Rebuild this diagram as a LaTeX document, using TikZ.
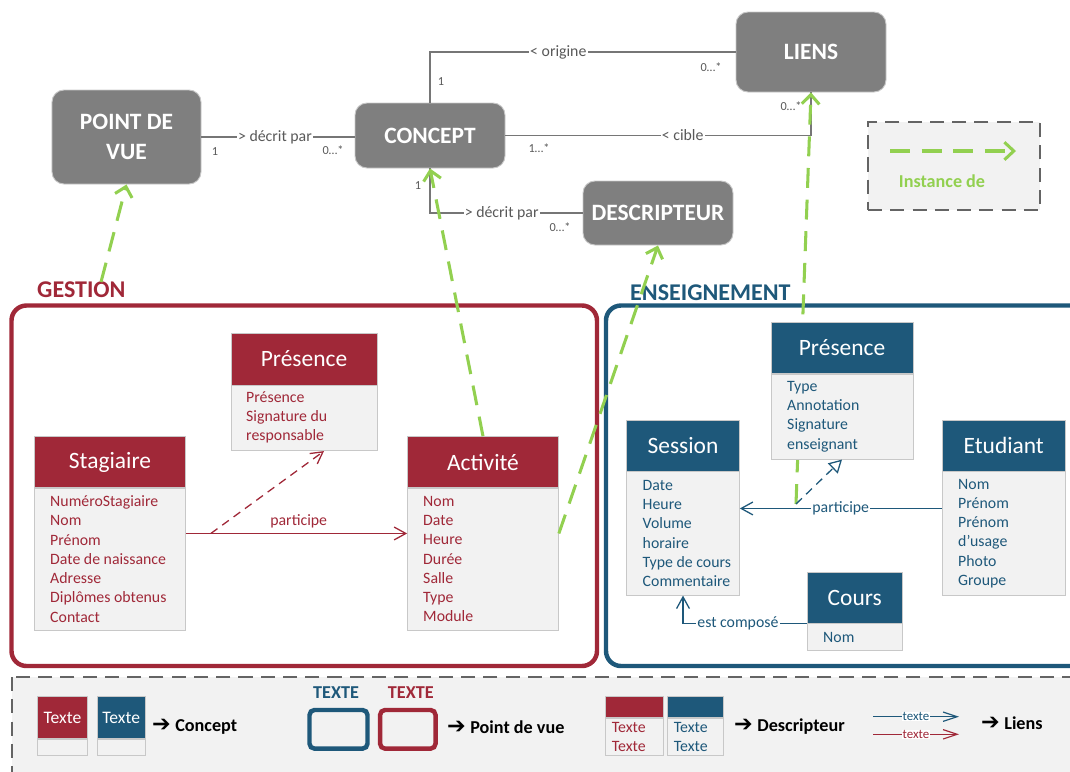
\documentclass[tikz,border=0pt]{standalone}
\usepackage{fontspec}
\setmainfont{Carlito}
\newfontfamily\arrowfont{DejaVu Sans}
\usepackage{tikz}
\usetikzlibrary{calc,arrows.meta,positioning}
\definecolor{gestred}{RGB}{160,40,56}
\definecolor{ensblue}{RGB}{30,88,122}
\definecolor{metagray}{RGB}{127,127,127}
\definecolor{linkgray}{RGB}{118,118,118}
\definecolor{labelgray}{RGB}{89,89,89}
\definecolor{instgreen}{RGB}{146,208,80}
\definecolor{bodyfill}{RGB}{242,242,242}
\definecolor{edgegray}{RGB}{200,200,200}
\definecolor{legendedge}{RGB}{100,100,100}
\newcommand\hdrfont{\fontsize{20}{24}\selectfont}
\newcommand\attrfont{\fontsize{13.5}{16.4}\selectfont}
\newcommand\metaboxfont{\fontsize{20}{25.6}\selectfont\bfseries}
\newcommand\linkfont{\fontsize{13.5}{16}\selectfont}
\newcommand\multfont{\fontsize{10.5}{12}\selectfont}
\newcommand\pkgfont{\fontsize{20.5}{24}\selectfont\bfseries}
\newcommand\legfont{\fontsize{15.5}{18}\selectfont\bfseries}
\newcommand\legarrow{{\arrowfont\fontsize{19}{20}\selectfont ➔}\hspace{0.25em}}

\begin{document}
\begin{tikzpicture}[x=0.03cm,y=-0.03cm,
    metabox/.style={rounded corners=0.36cm,fill=metagray,draw=edgegray,line width=0.8pt,text=white,font=\metaboxfont,align=center,inner sep=0pt},
    hdr/.style={fill=#1,draw=edgegray,line width=0.6pt,text=white,font=\hdrfont,inner sep=0pt,minimum height=1.53cm},
    attrbox/.style={fill=bodyfill,draw=edgegray,line width=0.6pt,inner sep=0pt},
    attrs/.style={anchor=west,align=left,font=\attrfont,text=#1,inner sep=0pt},
    metalink/.style={draw=linkgray,line width=1.2pt},
    linklbl/.style={font=\linkfont,text=labelgray,fill=white,inner sep=1pt},
    mult/.style={font=\multfont,text=labelgray},
    inst/.style={draw=instgreen,line width=2.6pt,dash pattern=on 17pt off 10pt,-{Straight Barb[length=8pt,width=15pt,line width=2.6pt]}},
    assoc/.style={draw=#1,line width=1.1pt,-{Straight Barb[length=10pt,width=11pt]}},
  ]
  \useasboundingbox (0,0) rectangle (1070,771);
  \clip (0,0) rectangle (1070,771);

  % meta model
  \node[metabox,minimum width=4.47cm,minimum height=2.82cm] (pdv) at (126.5,137) {POINT DE\\VUE};
  \node[metabox,minimum width=4.5cm,minimum height=1.95cm] (concept) at (430,135.5) {CONCEPT};
  \node[metabox,minimum width=4.5cm,minimum height=2.4cm] (liens) at (811,52) {LIENS};
  \node[metabox,minimum width=4.5cm,minimum height=1.92cm] (descr) at (658,213) {DESCRIPTEUR};

  \draw[metalink] (pdv.east) -- (pdv.east -| concept.west) node[linklbl,pos=0.48] {> décrit par};
  \draw[metalink] (concept.north) |- (liens.west) node[linklbl,pos=0.71] {< origine};
  \draw[metalink] (concept.east) -| (liens.south) node[linklbl,pos=0.29] {< cible};
  \draw[metalink] (concept.south) |- (descr.west) node[linklbl,pos=0.735] {> décrit par};
  \node[mult] (m1) at (215,152) {1};
  \node[mult] (m2) at (333,150) {0…*};
  \node[mult] (m3) at (441,82) {1};
  \node[mult] (m4) at (711,67) {0…*};
  \node[mult] (m5) at (539,148) {1…*};
  \node[mult] (m6) at (791,106) {0…*};
  \node[mult] (m7) at (418,186) {1};
  \node[mult] (m8) at (560,227) {0…*};

  % legende instance
  \node[draw=legendedge,line width=1.6pt,dash pattern=on 12pt off 7pt,fill=bodyfill,minimum width=5.16cm,minimum height=2.64cm] (instleg) at (954,166) {};
  \coordinate (instA) at (890,151);
  \coordinate (instB) at (1016,151);
  \draw[inst] (instA) -- (instB);
  \node[font=\legfont,text=instgreen] (instlbl) at (942,181) {Instance de};

  % paquets
  \node[font=\pkgfont,text=gestred,anchor=west,inner sep=0pt] (gestlbl) at (37,290) {GESTION};
  \node[font=\pkgfont,text=ensblue,anchor=west,inner sep=0pt] (enslbl) at (630,293) {ENSEIGNEMENT};
  \draw[gestred,line width=3.8pt,rounded corners=0.45cm] (11.5,305.5) rectangle (597,666);
  \draw[ensblue,line width=3.8pt,rounded corners=0.45cm] (606,305.5) rectangle (1090,666);

  \coordinate (presEdash) at (796,504);
  \draw[inst] (presEdash) -- (liens.south);

  % GESTION
  \node[hdr=gestred,minimum width=4.38cm,minimum height=1.56cm] (presGH) at (304,359) {Présence};
  \node[attrbox,minimum width=4.38cm,minimum height=1.95cm,below=0pt of presGH] (presGB) {};
  \node[attrs=gestred] (presGT) at (246,417.5) {Présence\\Signature du\\responsable};

  \node[hdr=gestred,minimum width=4.53cm] (stagH) at (110,462) {Stagiaire};
  \node[attrbox,minimum width=4.53cm,minimum height=4.275cm,below=0pt of stagH] (stagB) {};
  \node[attrs=gestred] (stagT) at (50,559) {NuméroStagiaire\\Nom\\Prénom\\Date de naissance\\Adresse\\Diplômes obtenus\\Contact};

  \node[hdr=gestred,minimum width=4.53cm] (actH) at (483,462) {Activité};
  \node[attrbox,minimum width=4.53cm,minimum height=4.275cm,below=0pt of actH] (actB) {};
  \node[attrs=gestred] (actT) at (423,559) {Nom\\Date\\Heure\\Durée\\Salle\\Type\\Module};

  \draw[assoc=gestred] ($(stagB.east)+(0,-26)$) -- ($(actB.west)+(0,-26)$) node[pos=0.51,above=1pt,font=\linkfont,text=gestred] (partG) {participe};
  \draw[gestred,line width=1.1pt,dash pattern=on 7pt off 5pt,-{Straight Barb[length=10pt,width=11pt]}] ($(stagB.east)+(25,-26)$) -- ($(presGB.south)+(20,0)$);

  % ENSEIGNEMENT
  \node[hdr=ensblue,minimum width=4.26cm] (presEH) at (842,348) {Présence};
  \node[attrbox,minimum width=4.26cm,minimum height=2.55cm,below=0pt of presEH] (presEB) {};
  \node[attrs=ensblue] (presET) at (787,416.5) {Type\\Annotation\\Signature\\enseignant};

  \node[hdr=ensblue,minimum width=3.39cm] (sessH) at (683,445.5) {Session};
  \node[attrbox,minimum width=3.39cm,minimum height=3.705cm,below=0pt of sessH] (sessB) {};
  \node[attrs=ensblue] (sessT) at (642.5,533.5) {Date\\Heure\\Volume\\horaire\\Type de cours\\Commentaire};

  \node[hdr=ensblue,minimum width=3.705cm] (etuH) at (1003.75,445.5) {Etudiant};
  \node[attrbox,minimum width=3.705cm,minimum height=3.705cm,below=0pt of etuH] (etuB) {};
  \node[attrs=ensblue] (etuT) at (958,533.5) {Nom\\Prénom\\Prénom\\d'usage\\Photo\\Groupe};

  \node[hdr=ensblue,minimum width=2.865cm] (coursH) at (854.75,597.5) {Cours};
  \node[attrbox,minimum width=2.865cm,minimum height=0.81cm,below=0pt of coursH] (coursB) {};
  \node[attrs=ensblue] (coursT) at (823,637) {Nom};

  \draw[assoc=ensblue] ($(etuB.west)+(0,-25)$) -- ($(sessB.east)+(0,-25)$) node[pos=0.5,fill=white,inner sep=1pt,font=\linkfont,text=ensblue] (partE) {participe};
  \draw[ensblue,line width=1.1pt,dash pattern=on 7pt off 5pt,-{Triangle[open,length=11pt,width=12pt]}] (presEdash) -- (presEB.south);
  \draw[assoc=ensblue] (coursH.south west) -| (sessB.south) node[pos=0.278,fill=white,inner sep=1pt,font=\linkfont,text=ensblue] (compE) {est composé};

  % instances
  \coordinate (gestinst) at (101,282);
  \draw[inst] (gestinst) -- (pdv.south);
  \draw[inst] (actH.north) -- (concept.south);
  \draw[inst] ($(actB.east)+(0,-26)$) -- (descr.south);

  % legende
  \draw[legendedge,line width=1.5pt,dash pattern=on 12pt off 7pt,fill=bodyfill] (12,677) rectangle (1100,800);
  \node[hdr=gestred,minimum width=1.52cm,minimum height=1.25cm,font=\fontsize{15}{17}\selectfont] (legRH) at (62.5,717.5) {Texte};
  \node[attrbox,minimum width=1.52cm,minimum height=0.48cm,below=0pt of legRH] (legRB) {};
  \node[hdr=ensblue,minimum width=1.425cm,minimum height=1.25cm,font=\fontsize{15}{17}\selectfont] (legBH) at (121.25,717.5) {Texte};
  \node[attrbox,minimum width=1.425cm,minimum height=0.48cm,below=0pt of legBH] (legBB) {};
  \node[font=\legfont,anchor=west] (legconcept) at (148,727) {\legarrow Concept};

  \node[font=\legfont,text=ensblue] (legtxtB) at (336,692.5) {TEXTE};
  \node[draw=ensblue,line width=3.8pt,rounded corners=0.15cm,minimum width=1.74cm,minimum height=1.16cm,inner sep=0pt] (legframeB) at (338.5,729.3) {};
  \node[font=\legfont,text=gestred] (legtxtR) at (410.8,692.5) {TEXTE};
  \node[draw=gestred,line width=3.8pt,rounded corners=0.15cm,minimum width=1.665cm,minimum height=1.16cm,inner sep=0pt] (legframeR) at (407.8,729.3) {};
  \node[font=\legfont,anchor=west] (legpdv) at (443,727) {\legarrow Point de vue};

  \node[hdr=gestred,minimum width=1.75cm,minimum height=0.63cm] (legDRH) at (634.15,707.2) {};
  \node[attrbox,minimum width=1.75cm,minimum height=1.1cm,below=0pt of legDRH] (legDRB) {};
  \node[attrs=gestred] (legDRT) at (611.6,736.8) {Texte\\Texte};
  \node[hdr=ensblue,minimum width=1.675cm,minimum height=0.63cm] (legDBH) at (695.6,707.2) {};
  \node[attrbox,minimum width=1.675cm,minimum height=1.1cm,below=0pt of legDBH] (legDBB) {};
  \node[attrs=ensblue] (legDBT) at (673.6,736.8) {Texte\\Texte};
  \node[font=\legfont,anchor=west] (legdesc) at (730,727) {\legarrow Descripteur};

  \coordinate (lienBa) at (873,716.7);
  \coordinate (lienBb) at (959,716.7);
  \coordinate (lienRa) at (873,734.3);
  \coordinate (lienRb) at (959,734.3);
  \draw[ensblue,line width=1pt,-{Straight Barb[length=12pt,width=8pt]}] (lienBa) -- (lienBb) node[pos=0.5,fill=white,inner sep=0.5pt,font=\fontsize{11}{12}\selectfont,text=ensblue] (legLB) {texte};
  \draw[gestred,line width=1pt,-{Straight Barb[length=12pt,width=8pt]}] (lienRa) -- (lienRb) node[pos=0.5,fill=white,inner sep=0.5pt,font=\fontsize{11}{12}\selectfont,text=gestred] (legLR) {texte};
  \node[font=\legfont,anchor=west] (legliens) at (977,723.3) {\legarrow Liens};
\end{tikzpicture}
\end{document}
